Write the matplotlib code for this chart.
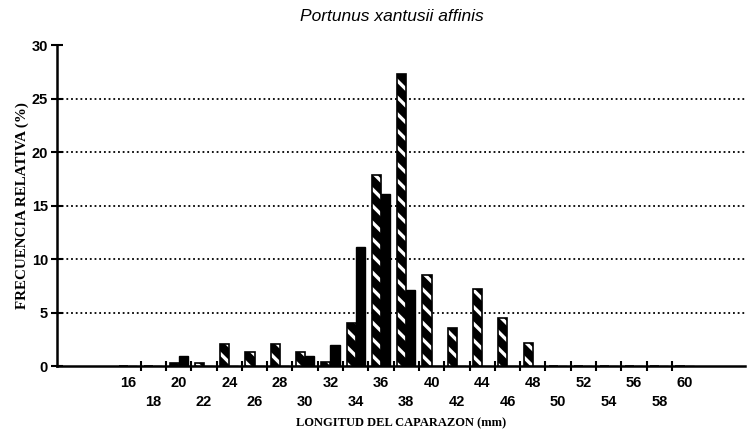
import matplotlib
matplotlib.use("Agg")
import matplotlib.pyplot as plt
import numpy as np

# Datos
lengths = [16, 18, 20, 22, 24, 26, 28, 30, 32, 34, 36, 38, 40, 42, 44, 46, 48, 50, 52, 54, 56, 58, 60]
freq_hatched = [0, 0, 0.3, 0.3, 2.1, 1.3, 2.1, 1.3, 0.35, 4.0, 17.9, 27.3, 8.5, 3.6, 7.2, 4.5, 2.2, 0, 0, 0, 0, 0, 0]
freq_solid = [0, 0, 0.9, 0, 0, 0, 0, 0.95, 2.0, 11.1, 16.1, 7.1, 0, 0, 0, 0, 0, 0, 0, 0, 0, 0, 0]
y_ticks = [0, 5, 10, 15, 20, 25, 30]

plt.rcParams['hatch.linewidth'] = 2.4

fig = plt.figure(figsize=(7.47, 4.4), dpi=100)
ax = fig.add_axes([0.0763, 0.168, 0.921, 0.7295])

x = np.arange(len(lengths))
w = 0.36

# barras rayadas (negro con rayas blancas) y barras solidas
ax.bar(x - w / 2, freq_hatched, width=w, color='black', edgecolor='white',
       hatch='\\\\', linewidth=0, zorder=3)
ax.bar(x - w / 2, freq_hatched, width=w, fill=False, edgecolor='black',
       linewidth=1.2, zorder=4)
ax.bar(x + w / 2, freq_solid, width=w, color='black', edgecolor='black',
       linewidth=1.0, zorder=3)

ax.set_xlim(-2.81, 24.39)
ax.set_ylim(0, 30)

# lineas punteadas horizontales
for yv in y_ticks[1:-1]:
    ax.axhline(yv, color='black', linestyle=(0, (1, 1.6)), linewidth=1.3, zorder=1)

ax.spines['top'].set_visible(False)
ax.spines['right'].set_visible(False)
ax.spines['left'].set_linewidth(1.8)
ax.spines['bottom'].set_linewidth(1.8)

ax.set_yticks(y_ticks)
ax.tick_params(axis='y', direction='inout', length=9, width=1.5, pad=2)
for lab in ax.get_yticklabels():
    lab.set_fontweight('bold')
    lab.set_fontsize(10.5)
    lab.set_family('Liberation Sans')

# etiquetas del eje x en dos filas
labels = [str(v) if i % 2 == 0 else "\n" + str(v) for i, v in enumerate(lengths)]
ax.set_xticks(x, labels)
ax.set_xticks(np.arange(0.5, 22, 1.0), minor=True)
ax.tick_params(axis='x', which='major', length=0, pad=7)
ax.tick_params(axis='x', which='minor', direction='inout', length=7, width=1.5)
for lab in ax.get_xticklabels():
    lab.set_fontweight('bold')
    lab.set_fontsize(10.5)
    lab.set_family('Liberation Sans')
    lab.set_linespacing(1.5)

ax.set_xlabel("LONGITUD DEL CAPARAZON (mm)", fontsize=9, fontweight='bold',
              family='Liberation Serif', labelpad=6)
ax.set_ylabel("FRECUENCIA RELATIVA (%)", fontsize=10.8, fontweight='bold',
              family='Liberation Serif', labelpad=2)
fig.text(0.524, 0.962, "Portunus xantusii affinis", ha='center', va='center',
         fontsize=12.5, style='italic', fontweight='medium', family='Liberation Sans')

fig.savefig("out.png", dpi=100)
